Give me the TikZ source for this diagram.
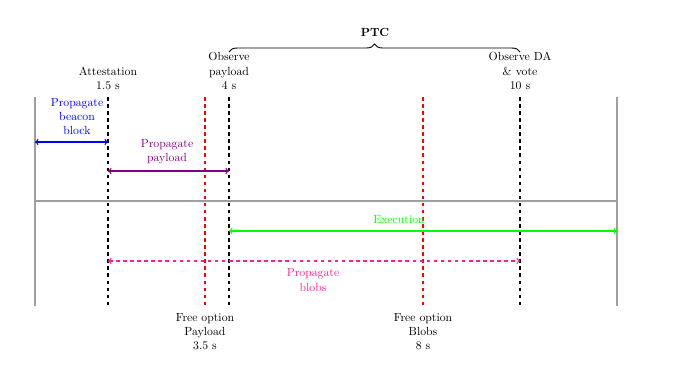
\documentclass[tikz,border=0pt]{standalone}
\usetikzlibrary{decorations.pathreplacing}
\definecolor{hotpink}{RGB}{255,30,150}
\begin{document}
\begin{tikzpicture}[x=0.85pt,y=-0.85pt,
  bound/.style={draw=gray!75,line width=1.1pt},
  tick/.style={dashed,line width=0.9pt},
  lbl/.style={align=center,inner sep=0pt,font=\normalsize},
  span/.style={<->,line width=1pt}]
\useasboundingbox (0,0) rectangle (690,370);
% boundaries
\coordinate (L0) at (35,97); \coordinate (L1) at (35,306);
\coordinate (R0) at (617,97); \coordinate (R1) at (617,306);
\coordinate (H0) at (35,201); \coordinate (H1) at (617,201);
\draw[bound] (L0) -- (L1);
\draw[bound] (R0) -- (R1);
\draw[bound] (H0) -- (H1);
% time lines
\coordinate (a0) at (108,97); \coordinate (a1) at (108,306);
\coordinate (p0) at (229,97); \coordinate (p1) at (229,306);
\coordinate (d0) at (520,97); \coordinate (d1) at (520,306);
\coordinate (fp0) at (205,97); \coordinate (fp1) at (205,306);
\coordinate (fb0) at (423,97); \coordinate (fb1) at (423,306);
\draw[tick,draw=black] (a0) -- (a1);
\draw[tick,draw=black] (p0) -- (p1);
\draw[tick,draw=black] (d0) -- (d1);
\draw[tick,draw=red] (fp0) -- (fp1);
\draw[tick,draw=red] (fb0) -- (fb1);
% top labels
\node[lbl] (att) at (108,78.5) {Attestation\\1.5 s};
\node[lbl] (obp) at (229,71) {Observe\\payload\\4 s};
\node[lbl] (oda) at (520,71) {Observe DA\\\& vote\\10 s};
\coordinate (b0) at (229,52); \coordinate (b1) at (520,52);
\draw[decorate,decoration={brace,amplitude=6.8pt},line width=0.8pt] (b0) -- (b1);
\node[lbl] (ptc) at (375,32) {\textbf{PTC}};
% bottom labels
\node[lbl] (fop) at (205,332) {Free option\\Payload\\3.5 s};
\node[lbl] (fob) at (423,332) {Free option\\Blobs\\8 s};
% spans
\coordinate (s1a) at (35,142); \coordinate (s1b) at (108,142);
\draw[span,draw=blue] (s1a) -- (s1b);
\node[lbl,text=blue] (t1) at (77,116.5) {Propagate\\beacon\\block};
\coordinate (s2a) at (108,171); \coordinate (s2b) at (229,171);
\draw[span,draw=violet] (s2a) -- (s2b);
\node[lbl,text=violet] (t2) at (167,151.5) {Propagate\\payload};
\coordinate (s3a) at (229,231); \coordinate (s3b) at (617,231);
\draw[span,draw=green] (s3a) -- (s3b);
\node[lbl,text=green] (t3) at (399,220) {Execution};
\coordinate (s4a) at (108,261); \coordinate (s4b) at (520,261);
\draw[span,dashed,draw=hotpink] (s4a) -- (s4b);
\node[lbl,text=hotpink] (t4) at (313,280) {Propagate\\blobs};
\end{tikzpicture}
\end{document}
